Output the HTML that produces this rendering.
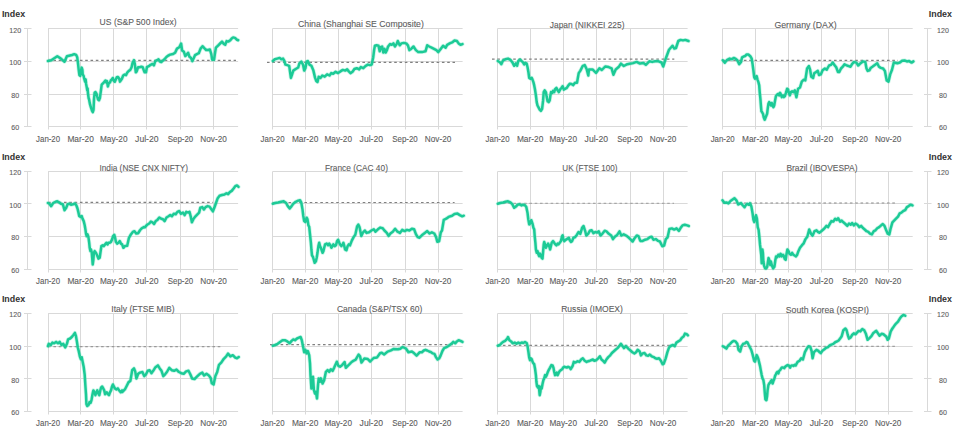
<!DOCTYPE html><html><head><meta charset="utf-8"><style>html,body{margin:0;padding:0;background:#fff;width:960px;height:431px;overflow:hidden}svg{display:block}text{font-family:"Liberation Sans",sans-serif}.t{stroke:#606060;stroke-width:0.1px}</style></head><body>
<svg width="960" height="431" viewBox="0 0 960 431">
<path d="M48.1 28.50H238.1 M48.1 61.50H238.1 M48.1 94.50H238.1 M48.1 126.50H238.1 M48.50 28.5V129.5 M80.50 28.5V129.5 M113.50 28.5V129.5 M146.50 28.5V129.5 M180.50 28.5V129.5 M213.50 28.5V129.5 M272.6 28.50H462.6 M272.6 61.50H462.6 M272.6 94.50H462.6 M272.6 126.50H462.6 M272.50 28.5V129.5 M305.50 28.5V129.5 M338.50 28.5V129.5 M371.50 28.5V129.5 M405.50 28.5V129.5 M438.50 28.5V129.5 M497.6 28.50H687.6 M497.6 61.50H687.6 M497.6 94.50H687.6 M497.6 126.50H687.6 M497.50 28.5V129.5 M530.50 28.5V129.5 M563.50 28.5V129.5 M596.50 28.5V129.5 M630.50 28.5V129.5 M663.50 28.5V129.5 M722.7 28.50H912.7 M722.7 61.50H912.7 M722.7 94.50H912.7 M722.7 126.50H912.7 M722.50 28.5V129.5 M755.50 28.5V129.5 M788.50 28.5V129.5 M821.50 28.5V129.5 M855.50 28.5V129.5 M888.50 28.5V129.5 M48.1 171.50H238.1 M48.1 203.50H238.1 M48.1 236.50H238.1 M48.1 269.50H238.1 M48.50 171.5V272.5 M80.50 171.5V272.5 M113.50 171.5V272.5 M146.50 171.5V272.5 M180.50 171.5V272.5 M213.50 171.5V272.5 M272.6 171.50H462.6 M272.6 203.50H462.6 M272.6 236.50H462.6 M272.6 269.50H462.6 M272.50 171.5V272.5 M305.50 171.5V272.5 M338.50 171.5V272.5 M371.50 171.5V272.5 M405.50 171.5V272.5 M438.50 171.5V272.5 M497.6 171.50H687.6 M497.6 203.50H687.6 M497.6 236.50H687.6 M497.6 269.50H687.6 M497.50 171.5V272.5 M530.50 171.5V272.5 M563.50 171.5V272.5 M596.50 171.5V272.5 M630.50 171.5V272.5 M663.50 171.5V272.5 M722.7 171.50H912.7 M722.7 203.50H912.7 M722.7 236.50H912.7 M722.7 269.50H912.7 M722.50 171.5V272.5 M755.50 171.5V272.5 M788.50 171.5V272.5 M821.50 171.5V272.5 M855.50 171.5V272.5 M888.50 171.5V272.5 M48.1 313.50H238.1 M48.1 346.50H238.1 M48.1 378.50H238.1 M48.1 411.50H238.1 M48.50 313.5V414.5 M80.50 313.5V414.5 M113.50 313.5V414.5 M146.50 313.5V414.5 M180.50 313.5V414.5 M213.50 313.5V414.5 M272.6 313.50H462.6 M272.6 346.50H462.6 M272.6 378.50H462.6 M272.6 411.50H462.6 M272.50 313.5V414.5 M305.50 313.5V414.5 M338.50 313.5V414.5 M371.50 313.5V414.5 M405.50 313.5V414.5 M438.50 313.5V414.5 M497.6 313.50H687.6 M497.6 346.50H687.6 M497.6 378.50H687.6 M497.6 411.50H687.6 M497.50 313.5V414.5 M530.50 313.5V414.5 M563.50 313.5V414.5 M596.50 313.5V414.5 M630.50 313.5V414.5 M663.50 313.5V414.5 M722.7 313.50H912.7 M722.7 346.50H912.7 M722.7 378.50H912.7 M722.7 411.50H912.7 M722.50 313.5V414.5 M755.50 313.5V414.5 M788.50 313.5V414.5 M821.50 313.5V414.5 M855.50 313.5V414.5 M888.50 313.5V414.5" stroke="#d9d9d9" stroke-width="1" fill="none"/>
<path d="M27.5 28.5V126.5 M927.5 28.5V126.5 M24 28.50H31.5 M924 28.50H931.5 M24 61.50H31.5 M924 61.50H931.5 M24 94.50H31.5 M924 94.50H931.5 M24 126.50H31.5 M924 126.50H931.5 M27.5 171.5V269.5 M927.5 171.5V269.5 M24 171.50H31.5 M924 171.50H931.5 M24 203.50H31.5 M924 203.50H931.5 M24 236.50H31.5 M924 236.50H931.5 M24 269.50H31.5 M924 269.50H931.5 M27.5 313.5V411.5 M927.5 313.5V411.5 M24 313.50H31.5 M924 313.50H931.5 M24 346.50H31.5 M924 346.50H931.5 M24 378.50H31.5 M924 378.50H931.5 M24 411.50H31.5 M924 411.50H931.5" stroke="#d9d9d9" stroke-width="1" fill="none"/>
<text x="1.9" y="17.20" font-size="9.4" font-weight="bold" fill="#333333" textLength="23.2" lengthAdjust="spacingAndGlyphs">Index</text>
<text x="928.8" y="17.20" font-size="9.4" font-weight="bold" fill="#333333" textLength="23.2" lengthAdjust="spacingAndGlyphs">Index</text>
<text x="15.2" y="32.60" font-size="7.8" fill="#5c5c5c" class="t" text-anchor="middle" textLength="11.8" lengthAdjust="spacingAndGlyphs">120</text>
<text x="943.0" y="32.60" font-size="7.8" fill="#5c5c5c" class="t" text-anchor="middle" textLength="11.8" lengthAdjust="spacingAndGlyphs">120</text>
<text x="15.2" y="65.20" font-size="7.8" fill="#5c5c5c" class="t" text-anchor="middle" textLength="11.8" lengthAdjust="spacingAndGlyphs">100</text>
<text x="943.0" y="65.20" font-size="7.8" fill="#5c5c5c" class="t" text-anchor="middle" textLength="11.8" lengthAdjust="spacingAndGlyphs">100</text>
<text x="15.2" y="97.80" font-size="7.8" fill="#5c5c5c" class="t" text-anchor="middle" textLength="7.9" lengthAdjust="spacingAndGlyphs">80</text>
<text x="943.0" y="97.80" font-size="7.8" fill="#5c5c5c" class="t" text-anchor="middle" textLength="7.9" lengthAdjust="spacingAndGlyphs">80</text>
<text x="15.2" y="130.40" font-size="7.8" fill="#5c5c5c" class="t" text-anchor="middle" textLength="7.9" lengthAdjust="spacingAndGlyphs">60</text>
<text x="943.0" y="130.40" font-size="7.8" fill="#5c5c5c" class="t" text-anchor="middle" textLength="7.9" lengthAdjust="spacingAndGlyphs">60</text>
<text x="48.10" y="141.60" font-size="8.6" fill="#5c5c5c" class="t" text-anchor="middle" textLength="24" lengthAdjust="spacingAndGlyphs">Jan-20</text>
<text x="80.65" y="141.60" font-size="8.6" fill="#5c5c5c" class="t" text-anchor="middle" textLength="26.5" lengthAdjust="spacingAndGlyphs">Mar-20</text>
<text x="113.74" y="141.60" font-size="8.6" fill="#5c5c5c" class="t" text-anchor="middle" textLength="27.5" lengthAdjust="spacingAndGlyphs">May-20</text>
<text x="146.84" y="141.60" font-size="8.6" fill="#5c5c5c" class="t" text-anchor="middle" textLength="23.5" lengthAdjust="spacingAndGlyphs">Jul-20</text>
<text x="180.47" y="141.60" font-size="8.6" fill="#5c5c5c" class="t" text-anchor="middle" textLength="25.5" lengthAdjust="spacingAndGlyphs">Sep-20</text>
<text x="213.56" y="141.60" font-size="8.6" fill="#5c5c5c" class="t" text-anchor="middle" textLength="26.5" lengthAdjust="spacingAndGlyphs">Nov-20</text>
<text x="272.60" y="141.60" font-size="8.6" fill="#5c5c5c" class="t" text-anchor="middle" textLength="24" lengthAdjust="spacingAndGlyphs">Jan-20</text>
<text x="305.15" y="141.60" font-size="8.6" fill="#5c5c5c" class="t" text-anchor="middle" textLength="26.5" lengthAdjust="spacingAndGlyphs">Mar-20</text>
<text x="338.24" y="141.60" font-size="8.6" fill="#5c5c5c" class="t" text-anchor="middle" textLength="27.5" lengthAdjust="spacingAndGlyphs">May-20</text>
<text x="371.34" y="141.60" font-size="8.6" fill="#5c5c5c" class="t" text-anchor="middle" textLength="23.5" lengthAdjust="spacingAndGlyphs">Jul-20</text>
<text x="404.97" y="141.60" font-size="8.6" fill="#5c5c5c" class="t" text-anchor="middle" textLength="25.5" lengthAdjust="spacingAndGlyphs">Sep-20</text>
<text x="438.06" y="141.60" font-size="8.6" fill="#5c5c5c" class="t" text-anchor="middle" textLength="26.5" lengthAdjust="spacingAndGlyphs">Nov-20</text>
<text x="497.60" y="141.60" font-size="8.6" fill="#5c5c5c" class="t" text-anchor="middle" textLength="24" lengthAdjust="spacingAndGlyphs">Jan-20</text>
<text x="530.15" y="141.60" font-size="8.6" fill="#5c5c5c" class="t" text-anchor="middle" textLength="26.5" lengthAdjust="spacingAndGlyphs">Mar-20</text>
<text x="563.24" y="141.60" font-size="8.6" fill="#5c5c5c" class="t" text-anchor="middle" textLength="27.5" lengthAdjust="spacingAndGlyphs">May-20</text>
<text x="596.34" y="141.60" font-size="8.6" fill="#5c5c5c" class="t" text-anchor="middle" textLength="23.5" lengthAdjust="spacingAndGlyphs">Jul-20</text>
<text x="629.97" y="141.60" font-size="8.6" fill="#5c5c5c" class="t" text-anchor="middle" textLength="25.5" lengthAdjust="spacingAndGlyphs">Sep-20</text>
<text x="663.06" y="141.60" font-size="8.6" fill="#5c5c5c" class="t" text-anchor="middle" textLength="26.5" lengthAdjust="spacingAndGlyphs">Nov-20</text>
<text x="722.70" y="141.60" font-size="8.6" fill="#5c5c5c" class="t" text-anchor="middle" textLength="24" lengthAdjust="spacingAndGlyphs">Jan-20</text>
<text x="755.25" y="141.60" font-size="8.6" fill="#5c5c5c" class="t" text-anchor="middle" textLength="26.5" lengthAdjust="spacingAndGlyphs">Mar-20</text>
<text x="788.34" y="141.60" font-size="8.6" fill="#5c5c5c" class="t" text-anchor="middle" textLength="27.5" lengthAdjust="spacingAndGlyphs">May-20</text>
<text x="821.44" y="141.60" font-size="8.6" fill="#5c5c5c" class="t" text-anchor="middle" textLength="23.5" lengthAdjust="spacingAndGlyphs">Jul-20</text>
<text x="855.07" y="141.60" font-size="8.6" fill="#5c5c5c" class="t" text-anchor="middle" textLength="25.5" lengthAdjust="spacingAndGlyphs">Sep-20</text>
<text x="888.16" y="141.60" font-size="8.6" fill="#5c5c5c" class="t" text-anchor="middle" textLength="26.5" lengthAdjust="spacingAndGlyphs">Nov-20</text>
<text x="1.9" y="159.50" font-size="9.4" font-weight="bold" fill="#333333" textLength="23.2" lengthAdjust="spacingAndGlyphs">Index</text>
<text x="928.8" y="159.50" font-size="9.4" font-weight="bold" fill="#333333" textLength="23.2" lengthAdjust="spacingAndGlyphs">Index</text>
<text x="15.2" y="174.90" font-size="7.8" fill="#5c5c5c" class="t" text-anchor="middle" textLength="11.8" lengthAdjust="spacingAndGlyphs">120</text>
<text x="943.0" y="174.90" font-size="7.8" fill="#5c5c5c" class="t" text-anchor="middle" textLength="11.8" lengthAdjust="spacingAndGlyphs">120</text>
<text x="15.2" y="207.50" font-size="7.8" fill="#5c5c5c" class="t" text-anchor="middle" textLength="11.8" lengthAdjust="spacingAndGlyphs">100</text>
<text x="943.0" y="207.50" font-size="7.8" fill="#5c5c5c" class="t" text-anchor="middle" textLength="11.8" lengthAdjust="spacingAndGlyphs">100</text>
<text x="15.2" y="240.10" font-size="7.8" fill="#5c5c5c" class="t" text-anchor="middle" textLength="7.9" lengthAdjust="spacingAndGlyphs">80</text>
<text x="943.0" y="240.10" font-size="7.8" fill="#5c5c5c" class="t" text-anchor="middle" textLength="7.9" lengthAdjust="spacingAndGlyphs">80</text>
<text x="15.2" y="272.70" font-size="7.8" fill="#5c5c5c" class="t" text-anchor="middle" textLength="7.9" lengthAdjust="spacingAndGlyphs">60</text>
<text x="943.0" y="272.70" font-size="7.8" fill="#5c5c5c" class="t" text-anchor="middle" textLength="7.9" lengthAdjust="spacingAndGlyphs">60</text>
<text x="48.10" y="283.90" font-size="8.6" fill="#5c5c5c" class="t" text-anchor="middle" textLength="24" lengthAdjust="spacingAndGlyphs">Jan-20</text>
<text x="80.65" y="283.90" font-size="8.6" fill="#5c5c5c" class="t" text-anchor="middle" textLength="26.5" lengthAdjust="spacingAndGlyphs">Mar-20</text>
<text x="113.74" y="283.90" font-size="8.6" fill="#5c5c5c" class="t" text-anchor="middle" textLength="27.5" lengthAdjust="spacingAndGlyphs">May-20</text>
<text x="146.84" y="283.90" font-size="8.6" fill="#5c5c5c" class="t" text-anchor="middle" textLength="23.5" lengthAdjust="spacingAndGlyphs">Jul-20</text>
<text x="180.47" y="283.90" font-size="8.6" fill="#5c5c5c" class="t" text-anchor="middle" textLength="25.5" lengthAdjust="spacingAndGlyphs">Sep-20</text>
<text x="213.56" y="283.90" font-size="8.6" fill="#5c5c5c" class="t" text-anchor="middle" textLength="26.5" lengthAdjust="spacingAndGlyphs">Nov-20</text>
<text x="272.60" y="283.90" font-size="8.6" fill="#5c5c5c" class="t" text-anchor="middle" textLength="24" lengthAdjust="spacingAndGlyphs">Jan-20</text>
<text x="305.15" y="283.90" font-size="8.6" fill="#5c5c5c" class="t" text-anchor="middle" textLength="26.5" lengthAdjust="spacingAndGlyphs">Mar-20</text>
<text x="338.24" y="283.90" font-size="8.6" fill="#5c5c5c" class="t" text-anchor="middle" textLength="27.5" lengthAdjust="spacingAndGlyphs">May-20</text>
<text x="371.34" y="283.90" font-size="8.6" fill="#5c5c5c" class="t" text-anchor="middle" textLength="23.5" lengthAdjust="spacingAndGlyphs">Jul-20</text>
<text x="404.97" y="283.90" font-size="8.6" fill="#5c5c5c" class="t" text-anchor="middle" textLength="25.5" lengthAdjust="spacingAndGlyphs">Sep-20</text>
<text x="438.06" y="283.90" font-size="8.6" fill="#5c5c5c" class="t" text-anchor="middle" textLength="26.5" lengthAdjust="spacingAndGlyphs">Nov-20</text>
<text x="497.60" y="283.90" font-size="8.6" fill="#5c5c5c" class="t" text-anchor="middle" textLength="24" lengthAdjust="spacingAndGlyphs">Jan-20</text>
<text x="530.15" y="283.90" font-size="8.6" fill="#5c5c5c" class="t" text-anchor="middle" textLength="26.5" lengthAdjust="spacingAndGlyphs">Mar-20</text>
<text x="563.24" y="283.90" font-size="8.6" fill="#5c5c5c" class="t" text-anchor="middle" textLength="27.5" lengthAdjust="spacingAndGlyphs">May-20</text>
<text x="596.34" y="283.90" font-size="8.6" fill="#5c5c5c" class="t" text-anchor="middle" textLength="23.5" lengthAdjust="spacingAndGlyphs">Jul-20</text>
<text x="629.97" y="283.90" font-size="8.6" fill="#5c5c5c" class="t" text-anchor="middle" textLength="25.5" lengthAdjust="spacingAndGlyphs">Sep-20</text>
<text x="663.06" y="283.90" font-size="8.6" fill="#5c5c5c" class="t" text-anchor="middle" textLength="26.5" lengthAdjust="spacingAndGlyphs">Nov-20</text>
<text x="722.70" y="283.90" font-size="8.6" fill="#5c5c5c" class="t" text-anchor="middle" textLength="24" lengthAdjust="spacingAndGlyphs">Jan-20</text>
<text x="755.25" y="283.90" font-size="8.6" fill="#5c5c5c" class="t" text-anchor="middle" textLength="26.5" lengthAdjust="spacingAndGlyphs">Mar-20</text>
<text x="788.34" y="283.90" font-size="8.6" fill="#5c5c5c" class="t" text-anchor="middle" textLength="27.5" lengthAdjust="spacingAndGlyphs">May-20</text>
<text x="821.44" y="283.90" font-size="8.6" fill="#5c5c5c" class="t" text-anchor="middle" textLength="23.5" lengthAdjust="spacingAndGlyphs">Jul-20</text>
<text x="855.07" y="283.90" font-size="8.6" fill="#5c5c5c" class="t" text-anchor="middle" textLength="25.5" lengthAdjust="spacingAndGlyphs">Sep-20</text>
<text x="888.16" y="283.90" font-size="8.6" fill="#5c5c5c" class="t" text-anchor="middle" textLength="26.5" lengthAdjust="spacingAndGlyphs">Nov-20</text>
<text x="1.9" y="301.90" font-size="9.4" font-weight="bold" fill="#333333" textLength="23.2" lengthAdjust="spacingAndGlyphs">Index</text>
<text x="928.8" y="301.90" font-size="9.4" font-weight="bold" fill="#333333" textLength="23.2" lengthAdjust="spacingAndGlyphs">Index</text>
<text x="15.2" y="317.30" font-size="7.8" fill="#5c5c5c" class="t" text-anchor="middle" textLength="11.8" lengthAdjust="spacingAndGlyphs">120</text>
<text x="943.0" y="317.30" font-size="7.8" fill="#5c5c5c" class="t" text-anchor="middle" textLength="11.8" lengthAdjust="spacingAndGlyphs">120</text>
<text x="15.2" y="349.90" font-size="7.8" fill="#5c5c5c" class="t" text-anchor="middle" textLength="11.8" lengthAdjust="spacingAndGlyphs">100</text>
<text x="943.0" y="349.90" font-size="7.8" fill="#5c5c5c" class="t" text-anchor="middle" textLength="11.8" lengthAdjust="spacingAndGlyphs">100</text>
<text x="15.2" y="382.50" font-size="7.8" fill="#5c5c5c" class="t" text-anchor="middle" textLength="7.9" lengthAdjust="spacingAndGlyphs">80</text>
<text x="943.0" y="382.50" font-size="7.8" fill="#5c5c5c" class="t" text-anchor="middle" textLength="7.9" lengthAdjust="spacingAndGlyphs">80</text>
<text x="15.2" y="415.10" font-size="7.8" fill="#5c5c5c" class="t" text-anchor="middle" textLength="7.9" lengthAdjust="spacingAndGlyphs">60</text>
<text x="943.0" y="415.10" font-size="7.8" fill="#5c5c5c" class="t" text-anchor="middle" textLength="7.9" lengthAdjust="spacingAndGlyphs">60</text>
<text x="48.10" y="426.30" font-size="8.6" fill="#5c5c5c" class="t" text-anchor="middle" textLength="24" lengthAdjust="spacingAndGlyphs">Jan-20</text>
<text x="80.65" y="426.30" font-size="8.6" fill="#5c5c5c" class="t" text-anchor="middle" textLength="26.5" lengthAdjust="spacingAndGlyphs">Mar-20</text>
<text x="113.74" y="426.30" font-size="8.6" fill="#5c5c5c" class="t" text-anchor="middle" textLength="27.5" lengthAdjust="spacingAndGlyphs">May-20</text>
<text x="146.84" y="426.30" font-size="8.6" fill="#5c5c5c" class="t" text-anchor="middle" textLength="23.5" lengthAdjust="spacingAndGlyphs">Jul-20</text>
<text x="180.47" y="426.30" font-size="8.6" fill="#5c5c5c" class="t" text-anchor="middle" textLength="25.5" lengthAdjust="spacingAndGlyphs">Sep-20</text>
<text x="213.56" y="426.30" font-size="8.6" fill="#5c5c5c" class="t" text-anchor="middle" textLength="26.5" lengthAdjust="spacingAndGlyphs">Nov-20</text>
<text x="272.60" y="426.30" font-size="8.6" fill="#5c5c5c" class="t" text-anchor="middle" textLength="24" lengthAdjust="spacingAndGlyphs">Jan-20</text>
<text x="305.15" y="426.30" font-size="8.6" fill="#5c5c5c" class="t" text-anchor="middle" textLength="26.5" lengthAdjust="spacingAndGlyphs">Mar-20</text>
<text x="338.24" y="426.30" font-size="8.6" fill="#5c5c5c" class="t" text-anchor="middle" textLength="27.5" lengthAdjust="spacingAndGlyphs">May-20</text>
<text x="371.34" y="426.30" font-size="8.6" fill="#5c5c5c" class="t" text-anchor="middle" textLength="23.5" lengthAdjust="spacingAndGlyphs">Jul-20</text>
<text x="404.97" y="426.30" font-size="8.6" fill="#5c5c5c" class="t" text-anchor="middle" textLength="25.5" lengthAdjust="spacingAndGlyphs">Sep-20</text>
<text x="438.06" y="426.30" font-size="8.6" fill="#5c5c5c" class="t" text-anchor="middle" textLength="26.5" lengthAdjust="spacingAndGlyphs">Nov-20</text>
<text x="497.60" y="426.30" font-size="8.6" fill="#5c5c5c" class="t" text-anchor="middle" textLength="24" lengthAdjust="spacingAndGlyphs">Jan-20</text>
<text x="530.15" y="426.30" font-size="8.6" fill="#5c5c5c" class="t" text-anchor="middle" textLength="26.5" lengthAdjust="spacingAndGlyphs">Mar-20</text>
<text x="563.24" y="426.30" font-size="8.6" fill="#5c5c5c" class="t" text-anchor="middle" textLength="27.5" lengthAdjust="spacingAndGlyphs">May-20</text>
<text x="596.34" y="426.30" font-size="8.6" fill="#5c5c5c" class="t" text-anchor="middle" textLength="23.5" lengthAdjust="spacingAndGlyphs">Jul-20</text>
<text x="629.97" y="426.30" font-size="8.6" fill="#5c5c5c" class="t" text-anchor="middle" textLength="25.5" lengthAdjust="spacingAndGlyphs">Sep-20</text>
<text x="663.06" y="426.30" font-size="8.6" fill="#5c5c5c" class="t" text-anchor="middle" textLength="26.5" lengthAdjust="spacingAndGlyphs">Nov-20</text>
<text x="722.70" y="426.30" font-size="8.6" fill="#5c5c5c" class="t" text-anchor="middle" textLength="24" lengthAdjust="spacingAndGlyphs">Jan-20</text>
<text x="755.25" y="426.30" font-size="8.6" fill="#5c5c5c" class="t" text-anchor="middle" textLength="26.5" lengthAdjust="spacingAndGlyphs">Mar-20</text>
<text x="788.34" y="426.30" font-size="8.6" fill="#5c5c5c" class="t" text-anchor="middle" textLength="27.5" lengthAdjust="spacingAndGlyphs">May-20</text>
<text x="821.44" y="426.30" font-size="8.6" fill="#5c5c5c" class="t" text-anchor="middle" textLength="23.5" lengthAdjust="spacingAndGlyphs">Jul-20</text>
<text x="855.07" y="426.30" font-size="8.6" fill="#5c5c5c" class="t" text-anchor="middle" textLength="25.5" lengthAdjust="spacingAndGlyphs">Sep-20</text>
<text x="888.16" y="426.30" font-size="8.6" fill="#5c5c5c" class="t" text-anchor="middle" textLength="26.5" lengthAdjust="spacingAndGlyphs">Nov-20</text>
<text x="99.60" y="25.25" font-size="9.2" fill="#5c5c5c" class="t" textLength="77.00" lengthAdjust="spacingAndGlyphs">US (S&amp;P 500 Index)</text>
<text x="298.00" y="27.40" font-size="9.2" fill="#5c5c5c" class="t" textLength="125.80" lengthAdjust="spacingAndGlyphs">China (Shanghai SE Composite)</text>
<text x="549.80" y="27.85" font-size="9.2" fill="#5c5c5c" class="t" textLength="74.70" lengthAdjust="spacingAndGlyphs">Japan (NIKKEI 225)</text>
<text x="774.40" y="27.85" font-size="9.2" fill="#5c5c5c" class="t" textLength="62.30" lengthAdjust="spacingAndGlyphs">Germany (DAX)</text>
<text x="99.40" y="170.75" font-size="9.2" fill="#5c5c5c" class="t" textLength="88.70" lengthAdjust="spacingAndGlyphs">India (NSE CNX NIFTY)</text>
<text x="325.00" y="170.70" font-size="9.2" fill="#5c5c5c" class="t" textLength="62.90" lengthAdjust="spacingAndGlyphs">France (CAC 40)</text>
<text x="562.30" y="170.70" font-size="9.2" fill="#5c5c5c" class="t" textLength="55.20" lengthAdjust="spacingAndGlyphs">UK (FTSE 100)</text>
<text x="786.40" y="170.80" font-size="9.2" fill="#5c5c5c" class="t" textLength="71.10" lengthAdjust="spacingAndGlyphs">Brazil (IBOVESPA)</text>
<text x="111.30" y="312.30" font-size="9.2" fill="#5c5c5c" class="t" textLength="63.30" lengthAdjust="spacingAndGlyphs">Italy (FTSE MIB)</text>
<text x="336.90" y="312.25" font-size="9.2" fill="#5c5c5c" class="t" textLength="85.45" lengthAdjust="spacingAndGlyphs">Canada (S&amp;P/TSX 60)</text>
<text x="561.20" y="312.30" font-size="9.2" fill="#5c5c5c" class="t" textLength="61.70" lengthAdjust="spacingAndGlyphs">Russia (IMOEX)</text>
<text x="785.80" y="312.50" font-size="9.2" fill="#5c5c5c" class="t" textLength="83.20" lengthAdjust="spacingAndGlyphs">South Korea (KOSPI)</text>
<path d="M48.1 60.40H236.0" stroke="#808080" stroke-width="1.2" stroke-dasharray="2.6 2.7" fill="none"/>
<path d="M267.0 62.30H455.0" stroke="#808080" stroke-width="1.2" stroke-dasharray="2.6 2.7" fill="none"/>
<path d="M492.0 59.10H674.3" stroke="#808080" stroke-width="1.2" stroke-dasharray="2.6 2.7" fill="none"/>
<path d="M722.7 60.30H898.0" stroke="#808080" stroke-width="1.2" stroke-dasharray="2.6 2.7" fill="none"/>
<path d="M48.1 202.30H213.0" stroke="#808080" stroke-width="1.2" stroke-dasharray="2.6 2.7" fill="none"/>
<path d="M272.6 202.50H454.6" stroke="#808080" stroke-width="1.2" stroke-dasharray="2.6 2.7" fill="none"/>
<path d="M497.6 203.40H674.0" stroke="#a8a8a8" stroke-width="1.2" stroke-dasharray="2.6 2.7" fill="none"/>
<path d="M722.7 203.00H896.0" stroke="#8c8c8c" stroke-width="1.2" stroke-dasharray="2.6 2.7" fill="none"/>
<path d="M48.1 346.60H221.0" stroke="#999999" stroke-width="1.2" stroke-dasharray="2.6 2.7" fill="none"/>
<path d="M270.0 344.60H455.0" stroke="#808080" stroke-width="1.2" stroke-dasharray="2.6 2.7" fill="none"/>
<path d="M497.6 345.40H674.0" stroke="#888888" stroke-width="1.2" stroke-dasharray="2.6 2.7" fill="none"/>
<path d="M722.7 346.40H896.4" stroke="#a0a0a0" stroke-width="1.2" stroke-dasharray="2.6 2.7" fill="none"/>
<path d="M47.9 61.0L51.2 60.3L57.3 56.2L60.9 58.6L64.5 61.7L66.9 56.2L72.0 55.0L74.2 54.2L76.2 55.0L77.2 57.2L77.9 62.4L78.7 69.8L79.4 75.0L80.2 75.8L80.9 71.3L81.7 67.6L82.4 69.8L82.7 74.3L83.6 75.8L84.2 78.7L85.1 81.7L85.7 79.5L86.1 83.9L86.8 87.6L87.3 90.6L87.6 88.4L88.0 93.6L88.6 98.0L89.1 99.5L89.5 101.7L90.1 104.7L91.0 107.7L92.0 110.7L92.8 112.1L93.5 109.9L94.0 99.5L94.6 92.8L95.5 92.1L96.5 93.6L97.2 96.5L98.0 99.5L99.0 100.3L99.9 98.0L101.0 89.9L101.7 84.7L102.4 83.9L103.2 83.2L104.4 81.7L105.4 80.5L106.2 82.4L106.9 81.0L107.9 86.5L108.8 83.2L109.9 82.4L110.9 80.2L111.8 79.5L112.8 78.0L113.9 81.0L114.8 81.7L115.8 79.5L116.8 77.2L118.0 76.9L119.2 78.7L120.0 81.6L121.9 78.8L123.2 75.5L124.6 74.6L126.0 75.1L127.4 72.3L128.8 70.9L130.2 70.0L131.6 67.2L132.5 63.0L133.9 60.2L134.8 63.9L135.8 72.3L136.7 71.3L138.1 67.2L140.0 67.2L141.3 66.7L142.7 67.2L143.7 70.0L144.6 72.3L146.0 72.3L146.9 67.2L148.8 66.2L150.6 64.8L152.5 63.9L153.9 65.3L155.3 61.1L157.1 60.2L158.5 59.3L159.9 61.6L161.3 62.1L162.7 60.7L164.5 59.3L166.4 57.0L168.3 55.6L170.1 54.6L172.0 54.2L172.8 54.1L175.1 52.7L177.0 48.6L179.3 47.2L181.1 43.5L182.1 50.4L183.9 51.8L185.3 56.0L186.7 54.6L188.1 52.7L189.5 56.9L190.9 57.8L192.3 61.1L193.7 58.3L195.1 55.1L196.9 54.1L198.8 53.2L200.6 48.6L202.5 46.2L204.3 48.1L206.2 50.0L208.1 50.0L209.9 49.5L211.3 54.1L212.2 59.7L214.1 59.7L215.0 53.2L215.9 47.6L218.3 45.3L220.1 43.5L222.0 41.6L223.8 43.9L225.2 44.8L226.6 41.1L228.5 41.6L230.3 40.2L231.7 38.4L233.1 37.4L235.0 37.9L236.8 39.7L238.2 40.2" stroke="#5fe3bb" stroke-opacity="0.35" stroke-width="4" fill="none" stroke-linejoin="round" stroke-linecap="round"/>
<path d="M47.9 61.0L51.2 60.3L57.3 56.2L60.9 58.6L64.5 61.7L66.9 56.2L72.0 55.0L74.2 54.2L76.2 55.0L77.2 57.2L77.9 62.4L78.7 69.8L79.4 75.0L80.2 75.8L80.9 71.3L81.7 67.6L82.4 69.8L82.7 74.3L83.6 75.8L84.2 78.7L85.1 81.7L85.7 79.5L86.1 83.9L86.8 87.6L87.3 90.6L87.6 88.4L88.0 93.6L88.6 98.0L89.1 99.5L89.5 101.7L90.1 104.7L91.0 107.7L92.0 110.7L92.8 112.1L93.5 109.9L94.0 99.5L94.6 92.8L95.5 92.1L96.5 93.6L97.2 96.5L98.0 99.5L99.0 100.3L99.9 98.0L101.0 89.9L101.7 84.7L102.4 83.9L103.2 83.2L104.4 81.7L105.4 80.5L106.2 82.4L106.9 81.0L107.9 86.5L108.8 83.2L109.9 82.4L110.9 80.2L111.8 79.5L112.8 78.0L113.9 81.0L114.8 81.7L115.8 79.5L116.8 77.2L118.0 76.9L119.2 78.7L120.0 81.6L121.9 78.8L123.2 75.5L124.6 74.6L126.0 75.1L127.4 72.3L128.8 70.9L130.2 70.0L131.6 67.2L132.5 63.0L133.9 60.2L134.8 63.9L135.8 72.3L136.7 71.3L138.1 67.2L140.0 67.2L141.3 66.7L142.7 67.2L143.7 70.0L144.6 72.3L146.0 72.3L146.9 67.2L148.8 66.2L150.6 64.8L152.5 63.9L153.9 65.3L155.3 61.1L157.1 60.2L158.5 59.3L159.9 61.6L161.3 62.1L162.7 60.7L164.5 59.3L166.4 57.0L168.3 55.6L170.1 54.6L172.0 54.2L172.8 54.1L175.1 52.7L177.0 48.6L179.3 47.2L181.1 43.5L182.1 50.4L183.9 51.8L185.3 56.0L186.7 54.6L188.1 52.7L189.5 56.9L190.9 57.8L192.3 61.1L193.7 58.3L195.1 55.1L196.9 54.1L198.8 53.2L200.6 48.6L202.5 46.2L204.3 48.1L206.2 50.0L208.1 50.0L209.9 49.5L211.3 54.1L212.2 59.7L214.1 59.7L215.0 53.2L215.9 47.6L218.3 45.3L220.1 43.5L222.0 41.6L223.8 43.9L225.2 44.8L226.6 41.1L228.5 41.6L230.3 40.2L231.7 38.4L233.1 37.4L235.0 37.9L236.8 39.7L238.2 40.2" stroke="#1cca96" stroke-width="2.5" fill="none" stroke-linejoin="round" stroke-linecap="round"/>
<path d="M272.8 61.0L274.8 59.3L277.2 58.6L279.6 57.9L281.3 59.3L283.0 58.6L284.4 61.0L285.4 64.6L287.3 65.1L289.2 65.8L290.9 77.9L292.1 74.3L293.3 70.6L295.7 69.0L298.2 67.5L299.4 63.4L301.3 61.7L303.0 64.6L304.2 70.6L305.4 68.2L306.6 61.7L307.8 61.0L309.5 64.6L311.4 65.8L313.4 70.6L315.1 77.9L316.3 81.0L317.5 82.0L318.7 76.7L320.6 77.9L322.3 75.5L324.7 76.7L327.1 74.3L329.5 75.5L331.2 73.1L333.2 73.8L335.6 71.8L338.0 73.1L340.4 71.4L342.8 69.9L345.2 70.6L347.1 69.4L348.8 71.4L350.5 73.1L352.5 71.8L354.4 69.0L356.8 68.2L359.2 69.4L360.9 67.0L363.3 68.2L365.7 65.8L367.9 64.6L370.0 65.1L371.7 64.6L373.2 57.4L374.1 50.1L374.9 45.8L376.5 45.3L378.5 45.8L379.7 51.3L380.9 47.2L382.1 46.5L383.3 52.5L384.5 48.9L385.7 52.5L386.9 50.1L388.1 46.5L390.1 44.1L391.7 44.8L393.4 43.4L394.9 46.5L396.6 44.1L397.8 41.0L399.7 45.3L401.4 43.4L403.8 42.9L406.2 43.4L407.9 45.3L409.4 50.1L411.1 48.9L413.5 46.5L415.9 50.1L418.3 52.1L421.9 52.1L425.5 51.3L427.2 45.3L429.2 46.5L431.6 47.7L434.0 48.9L436.4 50.1L438.3 52.1L440.7 48.9L443.1 45.8L445.6 47.7L447.2 44.8L449.7 43.4L452.1 42.4L454.5 40.5L456.9 41.0L458.6 43.4L460.5 44.8L462.5 44.1" stroke="#5fe3bb" stroke-opacity="0.35" stroke-width="4" fill="none" stroke-linejoin="round" stroke-linecap="round"/>
<path d="M272.8 61.0L274.8 59.3L277.2 58.6L279.6 57.9L281.3 59.3L283.0 58.6L284.4 61.0L285.4 64.6L287.3 65.1L289.2 65.8L290.9 77.9L292.1 74.3L293.3 70.6L295.7 69.0L298.2 67.5L299.4 63.4L301.3 61.7L303.0 64.6L304.2 70.6L305.4 68.2L306.6 61.7L307.8 61.0L309.5 64.6L311.4 65.8L313.4 70.6L315.1 77.9L316.3 81.0L317.5 82.0L318.7 76.7L320.6 77.9L322.3 75.5L324.7 76.7L327.1 74.3L329.5 75.5L331.2 73.1L333.2 73.8L335.6 71.8L338.0 73.1L340.4 71.4L342.8 69.9L345.2 70.6L347.1 69.4L348.8 71.4L350.5 73.1L352.5 71.8L354.4 69.0L356.8 68.2L359.2 69.4L360.9 67.0L363.3 68.2L365.7 65.8L367.9 64.6L370.0 65.1L371.7 64.6L373.2 57.4L374.1 50.1L374.9 45.8L376.5 45.3L378.5 45.8L379.7 51.3L380.9 47.2L382.1 46.5L383.3 52.5L384.5 48.9L385.7 52.5L386.9 50.1L388.1 46.5L390.1 44.1L391.7 44.8L393.4 43.4L394.9 46.5L396.6 44.1L397.8 41.0L399.7 45.3L401.4 43.4L403.8 42.9L406.2 43.4L407.9 45.3L409.4 50.1L411.1 48.9L413.5 46.5L415.9 50.1L418.3 52.1L421.9 52.1L425.5 51.3L427.2 45.3L429.2 46.5L431.6 47.7L434.0 48.9L436.4 50.1L438.3 52.1L440.7 48.9L443.1 45.8L445.6 47.7L447.2 44.8L449.7 43.4L452.1 42.4L454.5 40.5L456.9 41.0L458.6 43.4L460.5 44.8L462.5 44.1" stroke="#1cca96" stroke-width="2.5" fill="none" stroke-linejoin="round" stroke-linecap="round"/>
<path d="M497.8 61.0L499.8 62.2L501.4 64.1L503.1 60.3L505.5 59.3L508.0 58.6L510.4 59.8L512.3 62.2L514.2 65.8L515.9 63.4L517.1 65.8L518.3 61.0L520.0 59.5L521.7 61.2L523.0 62.4L524.2 64.5L525.3 62.9L526.7 63.7L527.5 67.0L528.4 72.0L529.2 77.9L530.4 78.7L531.7 77.9L532.5 79.6L533.4 82.1L534.2 85.4L535.0 89.6L535.9 95.4L536.7 102.1L537.5 105.5L538.4 107.1L539.7 109.6L540.9 110.8L542.1 108.8L543.1 100.4L543.7 92.1L544.7 90.4L545.9 92.1L546.7 97.1L547.6 101.3L548.7 102.1L549.7 100.4L550.4 95.4L551.1 92.1L552.1 92.9L553.1 90.8L554.2 92.1L555.1 89.1L556.4 87.9L557.6 90.4L558.8 92.1L560.1 89.6L561.4 87.9L562.6 86.2L563.8 89.6L565.1 88.8L566.8 87.9L568.4 85.4L569.9 83.7L571.4 83.9L573.1 85.1L575.0 82.7L577.0 82.7L578.7 73.1L580.4 70.6L582.8 65.8L584.7 65.1L586.6 69.0L588.3 75.5L589.0 69.4L592.5 69.4L596.0 72.9L599.4 68.3L601.8 70.0L605.2 66.5L608.7 67.1L611.6 68.3L613.4 74.7L615.7 69.4L618.6 67.1L620.9 63.6L623.8 66.0L627.3 64.2L630.8 63.6L633.1 63.1L636.6 61.9L640.0 63.6L643.5 63.1L645.8 64.8L649.3 61.3L652.2 61.9L655.1 61.3L658.6 61.3L661.5 62.5L663.2 66.5L665.6 59.0L669.0 49.7L672.5 45.7L674.3 48.6L676.0 48.0L678.3 41.0L680.6 39.9L683.0 40.4L685.3 39.9L688.5 41.0" stroke="#5fe3bb" stroke-opacity="0.35" stroke-width="4" fill="none" stroke-linejoin="round" stroke-linecap="round"/>
<path d="M497.8 61.0L499.8 62.2L501.4 64.1L503.1 60.3L505.5 59.3L508.0 58.6L510.4 59.8L512.3 62.2L514.2 65.8L515.9 63.4L517.1 65.8L518.3 61.0L520.0 59.5L521.7 61.2L523.0 62.4L524.2 64.5L525.3 62.9L526.7 63.7L527.5 67.0L528.4 72.0L529.2 77.9L530.4 78.7L531.7 77.9L532.5 79.6L533.4 82.1L534.2 85.4L535.0 89.6L535.9 95.4L536.7 102.1L537.5 105.5L538.4 107.1L539.7 109.6L540.9 110.8L542.1 108.8L543.1 100.4L543.7 92.1L544.7 90.4L545.9 92.1L546.7 97.1L547.6 101.3L548.7 102.1L549.7 100.4L550.4 95.4L551.1 92.1L552.1 92.9L553.1 90.8L554.2 92.1L555.1 89.1L556.4 87.9L557.6 90.4L558.8 92.1L560.1 89.6L561.4 87.9L562.6 86.2L563.8 89.6L565.1 88.8L566.8 87.9L568.4 85.4L569.9 83.7L571.4 83.9L573.1 85.1L575.0 82.7L577.0 82.7L578.7 73.1L580.4 70.6L582.8 65.8L584.7 65.1L586.6 69.0L588.3 75.5L589.0 69.4L592.5 69.4L596.0 72.9L599.4 68.3L601.8 70.0L605.2 66.5L608.7 67.1L611.6 68.3L613.4 74.7L615.7 69.4L618.6 67.1L620.9 63.6L623.8 66.0L627.3 64.2L630.8 63.6L633.1 63.1L636.6 61.9L640.0 63.6L643.5 63.1L645.8 64.8L649.3 61.3L652.2 61.9L655.1 61.3L658.6 61.3L661.5 62.5L663.2 66.5L665.6 59.0L669.0 49.7L672.5 45.7L674.3 48.6L676.0 48.0L678.3 41.0L680.6 39.9L683.0 40.4L685.3 39.9L688.5 41.0" stroke="#1cca96" stroke-width="2.5" fill="none" stroke-linejoin="round" stroke-linecap="round"/>
<path d="M722.8 60.3L724.8 62.7L727.2 59.8L729.6 58.6L732.0 59.3L733.7 57.9L735.4 58.6L737.3 60.3L739.2 64.1L740.9 62.2L742.1 57.4L744.5 56.2L745.0 56.2L746.7 54.5L748.3 54.5L750.3 56.2L751.7 58.7L752.5 63.7L753.4 70.4L754.2 77.1L755.0 78.7L755.9 77.1L756.7 76.2L757.5 79.6L758.4 82.1L759.2 85.4L759.7 92.1L760.4 98.8L760.9 105.5L761.4 111.3L762.0 112.1L763.0 113.8L763.7 117.2L764.7 119.7L765.4 118.0L766.4 115.5L767.1 113.8L767.6 109.6L768.4 103.8L769.2 102.1L770.1 103.8L770.9 105.5L771.7 103.0L772.6 105.5L773.4 107.1L774.2 105.5L775.1 100.4L775.9 96.3L777.1 94.6L778.4 93.8L779.2 95.4L780.1 92.9L780.9 94.6L781.8 97.1L783.1 95.4L783.8 97.1L784.8 96.3L785.9 92.9L787.1 88.8L788.1 89.6L788.8 92.9L789.8 95.4L790.9 92.1L792.1 91.3L793.4 92.1L794.9 90.4L796.4 97.2L798.1 88.7L800.0 87.5L801.8 81.6L803.6 79.8L805.3 80.4L807.1 68.5L808.9 66.1L810.1 69.7L811.3 76.8L813.1 78.0L814.2 73.2L816.0 72.1L817.8 70.9L819.0 75.0L820.8 74.4L822.6 70.3L824.9 68.5L826.7 69.7L829.1 65.5L830.9 64.9L832.7 62.6L834.4 64.9L836.2 67.3L838.0 72.1L839.2 72.1L841.0 68.5L842.8 66.7L844.5 64.3L846.9 65.5L848.7 66.1L850.5 66.7L852.2 63.8L854.0 62.0L856.4 62.6L858.2 65.5L860.6 63.2L862.9 61.4L865.3 62.0L866.5 68.5L867.7 70.9L869.5 70.3L870.7 67.9L872.4 66.7L874.8 64.9L877.2 63.2L879.0 66.7L880.8 67.9L883.1 68.5L884.9 70.9L886.7 80.4L888.5 81.6L890.2 74.4L892.0 69.7L893.8 62.6L897.4 63.2L899.8 62.6L902.1 60.8L904.5 60.4L906.9 61.4L909.2 61.1L911.6 62.6L913.4 61.4" stroke="#5fe3bb" stroke-opacity="0.35" stroke-width="4" fill="none" stroke-linejoin="round" stroke-linecap="round"/>
<path d="M722.8 60.3L724.8 62.7L727.2 59.8L729.6 58.6L732.0 59.3L733.7 57.9L735.4 58.6L737.3 60.3L739.2 64.1L740.9 62.2L742.1 57.4L744.5 56.2L745.0 56.2L746.7 54.5L748.3 54.5L750.3 56.2L751.7 58.7L752.5 63.7L753.4 70.4L754.2 77.1L755.0 78.7L755.9 77.1L756.7 76.2L757.5 79.6L758.4 82.1L759.2 85.4L759.7 92.1L760.4 98.8L760.9 105.5L761.4 111.3L762.0 112.1L763.0 113.8L763.7 117.2L764.7 119.7L765.4 118.0L766.4 115.5L767.1 113.8L767.6 109.6L768.4 103.8L769.2 102.1L770.1 103.8L770.9 105.5L771.7 103.0L772.6 105.5L773.4 107.1L774.2 105.5L775.1 100.4L775.9 96.3L777.1 94.6L778.4 93.8L779.2 95.4L780.1 92.9L780.9 94.6L781.8 97.1L783.1 95.4L783.8 97.1L784.8 96.3L785.9 92.9L787.1 88.8L788.1 89.6L788.8 92.9L789.8 95.4L790.9 92.1L792.1 91.3L793.4 92.1L794.9 90.4L796.4 97.2L798.1 88.7L800.0 87.5L801.8 81.6L803.6 79.8L805.3 80.4L807.1 68.5L808.9 66.1L810.1 69.7L811.3 76.8L813.1 78.0L814.2 73.2L816.0 72.1L817.8 70.9L819.0 75.0L820.8 74.4L822.6 70.3L824.9 68.5L826.7 69.7L829.1 65.5L830.9 64.9L832.7 62.6L834.4 64.9L836.2 67.3L838.0 72.1L839.2 72.1L841.0 68.5L842.8 66.7L844.5 64.3L846.9 65.5L848.7 66.1L850.5 66.7L852.2 63.8L854.0 62.0L856.4 62.6L858.2 65.5L860.6 63.2L862.9 61.4L865.3 62.0L866.5 68.5L867.7 70.9L869.5 70.3L870.7 67.9L872.4 66.7L874.8 64.9L877.2 63.2L879.0 66.7L880.8 67.9L883.1 68.5L884.9 70.9L886.7 80.4L888.5 81.6L890.2 74.4L892.0 69.7L893.8 62.6L897.4 63.2L899.8 62.6L902.1 60.8L904.5 60.4L906.9 61.4L909.2 61.1L911.6 62.6L913.4 61.4" stroke="#1cca96" stroke-width="2.5" fill="none" stroke-linejoin="round" stroke-linecap="round"/>
<path d="M47.9 203.0L49.3 203.7L51.2 206.1L53.2 203.0L55.6 201.8L57.3 201.3L59.0 202.3L60.9 203.7L62.8 204.2L64.5 210.2L66.2 207.8L67.6 204.2L69.3 203.7L71.0 204.7L73.0 204.2L75.0 203.5L76.3 205.2L77.5 208.5L78.3 211.9L79.2 216.0L80.3 216.9L81.7 216.0L82.5 218.6L83.7 221.1L84.7 225.2L85.4 229.4L86.0 233.6L86.7 236.1L87.5 234.4L88.4 236.9L89.2 242.8L89.7 247.8L90.4 251.1L91.0 249.5L91.7 252.0L92.2 257.8L92.7 264.5L93.4 259.5L93.9 252.8L94.7 251.1L95.9 252.8L97.1 255.3L98.4 258.6L99.7 257.8L100.4 252.8L101.4 246.1L102.6 245.3L103.7 246.1L105.1 244.4L106.4 242.8L107.6 244.4L108.4 242.8L109.7 242.8L110.9 241.9L112.1 239.4L113.1 236.1L114.3 234.8L115.1 237.8L115.9 241.9L117.1 243.6L118.4 242.8L119.8 241.1L120.9 243.6L122.1 244.4L123.4 247.8L124.9 246.1L127.2 245.7L128.9 238.0L130.9 234.4L132.8 231.9L134.5 231.2L136.2 233.6L138.1 233.2L140.0 230.3L141.7 228.3L143.9 227.1L144.8 227.4L147.2 224.7L149.2 223.5L150.9 221.6L152.5 222.3L154.0 224.0L155.7 221.1L157.4 219.9L159.3 217.5L161.2 218.7L162.9 219.2L164.6 221.1L166.5 217.5L168.5 216.3L170.2 215.1L171.9 216.3L173.8 213.8L175.7 214.3L177.4 211.9L179.1 211.0L181.0 213.8L183.0 212.6L184.6 215.1L186.3 211.9L188.3 212.6L189.5 211.9L190.7 216.3L191.9 222.3L193.6 218.7L195.5 216.3L197.4 214.3L199.1 212.6L200.3 207.8L202.3 207.1L203.9 209.5L205.6 207.1L207.6 206.1L209.5 206.6L211.2 209.0L212.9 211.4L214.3 207.8L216.0 203.0L217.7 198.2L219.6 195.7L222.0 195.0L224.5 194.5L226.4 193.3L228.1 194.1L229.8 192.1L231.7 190.9L233.6 188.5L235.3 186.1L237.0 185.4L238.5 186.8" stroke="#5fe3bb" stroke-opacity="0.35" stroke-width="4" fill="none" stroke-linejoin="round" stroke-linecap="round"/>
<path d="M47.9 203.0L49.3 203.7L51.2 206.1L53.2 203.0L55.6 201.8L57.3 201.3L59.0 202.3L60.9 203.7L62.8 204.2L64.5 210.2L66.2 207.8L67.6 204.2L69.3 203.7L71.0 204.7L73.0 204.2L75.0 203.5L76.3 205.2L77.5 208.5L78.3 211.9L79.2 216.0L80.3 216.9L81.7 216.0L82.5 218.6L83.7 221.1L84.7 225.2L85.4 229.4L86.0 233.6L86.7 236.1L87.5 234.4L88.4 236.9L89.2 242.8L89.7 247.8L90.4 251.1L91.0 249.5L91.7 252.0L92.2 257.8L92.7 264.5L93.4 259.5L93.9 252.8L94.7 251.1L95.9 252.8L97.1 255.3L98.4 258.6L99.7 257.8L100.4 252.8L101.4 246.1L102.6 245.3L103.7 246.1L105.1 244.4L106.4 242.8L107.6 244.4L108.4 242.8L109.7 242.8L110.9 241.9L112.1 239.4L113.1 236.1L114.3 234.8L115.1 237.8L115.9 241.9L117.1 243.6L118.4 242.8L119.8 241.1L120.9 243.6L122.1 244.4L123.4 247.8L124.9 246.1L127.2 245.7L128.9 238.0L130.9 234.4L132.8 231.9L134.5 231.2L136.2 233.6L138.1 233.2L140.0 230.3L141.7 228.3L143.9 227.1L144.8 227.4L147.2 224.7L149.2 223.5L150.9 221.6L152.5 222.3L154.0 224.0L155.7 221.1L157.4 219.9L159.3 217.5L161.2 218.7L162.9 219.2L164.6 221.1L166.5 217.5L168.5 216.3L170.2 215.1L171.9 216.3L173.8 213.8L175.7 214.3L177.4 211.9L179.1 211.0L181.0 213.8L183.0 212.6L184.6 215.1L186.3 211.9L188.3 212.6L189.5 211.9L190.7 216.3L191.9 222.3L193.6 218.7L195.5 216.3L197.4 214.3L199.1 212.6L200.3 207.8L202.3 207.1L203.9 209.5L205.6 207.1L207.6 206.1L209.5 206.6L211.2 209.0L212.9 211.4L214.3 207.8L216.0 203.0L217.7 198.2L219.6 195.7L222.0 195.0L224.5 194.5L226.4 193.3L228.1 194.1L229.8 192.1L231.7 190.9L233.6 188.5L235.3 186.1L237.0 185.4L238.5 186.8" stroke="#1cca96" stroke-width="2.5" fill="none" stroke-linejoin="round" stroke-linecap="round"/>
<path d="M272.8 203.7L275.2 203.0L278.1 202.5L281.3 201.8L283.7 201.3L286.1 203.0L287.8 206.1L289.7 208.5L291.6 206.1L293.3 203.7L295.7 201.8L298.2 200.6L300.0 200.2L301.3 202.7L302.5 209.4L303.3 216.0L304.2 221.1L305.3 221.9L306.7 217.7L307.5 219.4L308.4 225.2L309.2 226.9L310.0 234.4L310.9 242.8L311.4 249.5L312.0 255.3L313.0 257.0L313.7 259.5L314.7 262.8L315.9 261.2L316.7 257.8L317.5 252.8L318.4 246.1L319.2 242.8L320.0 246.1L320.9 247.8L321.7 250.3L322.6 252.8L323.4 251.1L324.2 247.8L325.1 244.4L326.7 243.6L328.1 245.3L329.2 243.6L330.4 245.3L331.4 247.8L332.6 246.1L333.4 244.4L334.7 246.1L335.9 245.3L337.1 241.1L338.1 239.8L339.3 242.8L340.1 244.4L341.4 246.1L342.6 244.4L343.4 242.8L344.3 246.1L345.1 249.5L346.4 250.3L347.6 246.1L348.8 244.4L350.0 245.4L351.8 240.6L353.6 237.1L355.3 234.7L357.1 226.4L358.3 224.6L359.5 227.0L361.3 235.9L363.1 232.3L364.8 230.5L366.6 232.9L369.0 232.3L371.4 230.5L373.8 229.3L375.5 231.7L377.9 229.3L380.3 227.6L382.7 228.2L384.4 230.5L386.8 232.9L388.6 235.9L390.4 233.5L392.8 231.7L395.1 228.8L397.5 231.7L399.9 232.9L402.2 229.9L404.6 231.1L407.0 229.9L409.4 230.5L411.8 228.8L414.1 229.3L415.9 234.1L417.7 237.1L419.5 237.7L421.8 235.3L424.8 232.9L427.2 231.1L429.6 233.5L431.9 232.3L434.3 233.5L436.1 237.1L437.3 241.8L439.1 241.2L440.8 232.3L442.0 230.5L443.8 219.8L446.2 218.7L448.6 216.9L452.1 215.7L454.5 213.9L457.5 213.6L459.8 215.1L462.2 216.3L463.8 215.7" stroke="#5fe3bb" stroke-opacity="0.35" stroke-width="4" fill="none" stroke-linejoin="round" stroke-linecap="round"/>
<path d="M272.8 203.7L275.2 203.0L278.1 202.5L281.3 201.8L283.7 201.3L286.1 203.0L287.8 206.1L289.7 208.5L291.6 206.1L293.3 203.7L295.7 201.8L298.2 200.6L300.0 200.2L301.3 202.7L302.5 209.4L303.3 216.0L304.2 221.1L305.3 221.9L306.7 217.7L307.5 219.4L308.4 225.2L309.2 226.9L310.0 234.4L310.9 242.8L311.4 249.5L312.0 255.3L313.0 257.0L313.7 259.5L314.7 262.8L315.9 261.2L316.7 257.8L317.5 252.8L318.4 246.1L319.2 242.8L320.0 246.1L320.9 247.8L321.7 250.3L322.6 252.8L323.4 251.1L324.2 247.8L325.1 244.4L326.7 243.6L328.1 245.3L329.2 243.6L330.4 245.3L331.4 247.8L332.6 246.1L333.4 244.4L334.7 246.1L335.9 245.3L337.1 241.1L338.1 239.8L339.3 242.8L340.1 244.4L341.4 246.1L342.6 244.4L343.4 242.8L344.3 246.1L345.1 249.5L346.4 250.3L347.6 246.1L348.8 244.4L350.0 245.4L351.8 240.6L353.6 237.1L355.3 234.7L357.1 226.4L358.3 224.6L359.5 227.0L361.3 235.9L363.1 232.3L364.8 230.5L366.6 232.9L369.0 232.3L371.4 230.5L373.8 229.3L375.5 231.7L377.9 229.3L380.3 227.6L382.7 228.2L384.4 230.5L386.8 232.9L388.6 235.9L390.4 233.5L392.8 231.7L395.1 228.8L397.5 231.7L399.9 232.9L402.2 229.9L404.6 231.1L407.0 229.9L409.4 230.5L411.8 228.8L414.1 229.3L415.9 234.1L417.7 237.1L419.5 237.7L421.8 235.3L424.8 232.9L427.2 231.1L429.6 233.5L431.9 232.3L434.3 233.5L436.1 237.1L437.3 241.8L439.1 241.2L440.8 232.3L442.0 230.5L443.8 219.8L446.2 218.7L448.6 216.9L452.1 215.7L454.5 213.9L457.5 213.6L459.8 215.1L462.2 216.3L463.8 215.7" stroke="#1cca96" stroke-width="2.5" fill="none" stroke-linejoin="round" stroke-linecap="round"/>
<path d="M497.8 203.7L500.2 203.0L503.1 202.5L505.5 201.8L508.0 201.3L510.4 202.3L512.3 204.2L514.2 207.8L515.9 206.6L517.6 204.7L519.5 204.2L521.5 205.4L523.2 204.7L525.0 205.2L526.3 206.9L527.5 212.7L528.3 219.4L529.2 224.4L530.0 223.6L531.3 220.2L532.5 223.6L533.4 227.7L534.2 229.4L534.7 236.1L535.4 242.8L535.9 249.5L536.7 252.8L537.5 251.1L538.4 254.5L539.2 256.1L540.0 253.6L540.9 255.3L541.7 257.8L542.5 258.6L543.0 252.8L543.7 244.4L544.2 241.9L545.0 244.4L545.9 247.8L546.7 246.1L548.1 243.6L549.2 246.1L550.1 249.5L550.9 246.1L551.7 242.8L553.1 241.1L554.2 242.8L555.4 244.4L556.4 245.3L557.6 243.6L558.4 244.4L559.7 242.8L560.9 241.1L562.1 236.1L562.6 235.3L563.4 239.4L564.3 241.1L565.1 240.3L566.4 239.4L567.6 238.6L568.8 237.8L569.8 240.3L570.9 241.9L572.1 241.1L573.4 237.8L575.0 237.3L576.8 234.9L578.6 232.0L580.3 233.8L582.1 227.8L583.5 226.0L585.1 230.8L586.3 235.5L588.1 233.8L589.8 230.8L591.6 230.2L593.4 233.2L595.2 232.0L597.0 232.6L598.8 231.4L600.5 235.5L602.3 233.8L604.7 230.8L606.5 231.4L608.8 233.8L611.2 235.5L613.0 239.1L614.8 236.7L617.2 234.9L619.5 231.4L621.3 235.5L623.7 234.3L626.1 235.5L628.4 237.3L630.8 239.7L632.6 241.5L634.4 238.5L636.8 235.5L638.5 236.1L640.3 240.9L642.7 240.9L645.1 239.7L647.4 239.1L649.8 237.3L651.6 236.7L653.4 239.7L655.8 239.1L658.1 240.9L659.9 241.5L661.1 243.8L662.3 246.2L664.1 245.6L665.8 239.1L667.6 237.3L669.4 229.0L671.8 228.4L674.2 229.6L676.5 228.4L678.9 230.8L680.7 227.8L682.5 225.4L684.8 224.8L687.2 225.4L688.8 226.0" stroke="#5fe3bb" stroke-opacity="0.35" stroke-width="4" fill="none" stroke-linejoin="round" stroke-linecap="round"/>
<path d="M497.8 203.7L500.2 203.0L503.1 202.5L505.5 201.8L508.0 201.3L510.4 202.3L512.3 204.2L514.2 207.8L515.9 206.6L517.6 204.7L519.5 204.2L521.5 205.4L523.2 204.7L525.0 205.2L526.3 206.9L527.5 212.7L528.3 219.4L529.2 224.4L530.0 223.6L531.3 220.2L532.5 223.6L533.4 227.7L534.2 229.4L534.7 236.1L535.4 242.8L535.9 249.5L536.7 252.8L537.5 251.1L538.4 254.5L539.2 256.1L540.0 253.6L540.9 255.3L541.7 257.8L542.5 258.6L543.0 252.8L543.7 244.4L544.2 241.9L545.0 244.4L545.9 247.8L546.7 246.1L548.1 243.6L549.2 246.1L550.1 249.5L550.9 246.1L551.7 242.8L553.1 241.1L554.2 242.8L555.4 244.4L556.4 245.3L557.6 243.6L558.4 244.4L559.7 242.8L560.9 241.1L562.1 236.1L562.6 235.3L563.4 239.4L564.3 241.1L565.1 240.3L566.4 239.4L567.6 238.6L568.8 237.8L569.8 240.3L570.9 241.9L572.1 241.1L573.4 237.8L575.0 237.3L576.8 234.9L578.6 232.0L580.3 233.8L582.1 227.8L583.5 226.0L585.1 230.8L586.3 235.5L588.1 233.8L589.8 230.8L591.6 230.2L593.4 233.2L595.2 232.0L597.0 232.6L598.8 231.4L600.5 235.5L602.3 233.8L604.7 230.8L606.5 231.4L608.8 233.8L611.2 235.5L613.0 239.1L614.8 236.7L617.2 234.9L619.5 231.4L621.3 235.5L623.7 234.3L626.1 235.5L628.4 237.3L630.8 239.7L632.6 241.5L634.4 238.5L636.8 235.5L638.5 236.1L640.3 240.9L642.7 240.9L645.1 239.7L647.4 239.1L649.8 237.3L651.6 236.7L653.4 239.7L655.8 239.1L658.1 240.9L659.9 241.5L661.1 243.8L662.3 246.2L664.1 245.6L665.8 239.1L667.6 237.3L669.4 229.0L671.8 228.4L674.2 229.6L676.5 228.4L678.9 230.8L680.7 227.8L682.5 225.4L684.8 224.8L687.2 225.4L688.8 226.0" stroke="#1cca96" stroke-width="2.5" fill="none" stroke-linejoin="round" stroke-linecap="round"/>
<path d="M722.5 200.3L724.3 202.7L726.4 202.4L728.4 203.4L730.5 201.0L731.9 200.0L734.4 198.2L736.4 200.3L738.2 204.5L739.6 203.8L741.0 203.1L742.7 205.2L744.5 207.3L745.8 205.2L747.2 203.8L749.0 204.8L750.0 203.2L751.4 206.6L752.6 213.5L753.4 219.5L754.3 222.0L755.2 218.6L756.0 215.2L756.9 218.6L757.7 227.2L758.6 229.8L759.4 237.5L760.0 244.4L760.6 249.5L761.2 254.7L761.7 263.2L762.4 249.5L762.9 252.9L763.4 261.5L764.1 265.8L765.1 268.4L766.3 268.4L767.2 266.7L768.0 261.5L768.5 258.1L769.2 259.8L770.3 265.0L770.9 261.5L772.0 265.8L773.2 268.4L774.4 266.7L775.4 259.8L776.1 256.4L777.1 257.2L778.3 254.7L779.5 256.4L780.6 253.8L781.8 256.4L783.0 254.7L784.0 256.4L784.7 259.0L785.7 259.8L786.4 254.7L787.4 249.5L788.6 251.2L789.5 253.8L790.9 254.7L792.1 252.9L793.3 254.7L794.6 255.5L796.0 256.4L797.2 254.7L798.4 251.2L800.0 247.8L802.0 245.2L803.7 243.3L805.4 239.2L807.3 236.8L809.2 229.5L810.9 233.6L812.6 235.6L814.5 231.2L816.5 230.3L817.9 231.9L819.3 232.7L821.2 231.2L823.2 229.5L824.9 227.8L826.5 225.9L828.0 227.1L829.7 224.0L831.4 221.1L833.3 221.6L835.2 218.7L836.9 219.9L838.1 218.2L840.1 221.6L841.7 220.6L843.4 222.3L845.4 224.0L847.3 225.9L849.0 223.5L850.7 224.7L852.1 223.0L853.8 225.4L855.5 223.5L857.4 224.7L859.4 227.1L861.1 225.9L862.7 227.8L864.7 229.5L866.6 231.2L868.3 231.9L870.0 233.6L871.9 234.4L873.8 231.2L875.5 230.3L877.2 228.3L879.2 227.1L881.1 225.4L882.8 224.0L884.5 225.9L885.9 229.5L887.6 233.6L889.3 234.4L890.7 228.3L892.4 222.3L894.1 220.6L896.0 218.7L898.0 216.7L899.7 213.4L901.4 212.6L903.3 211.0L905.2 210.2L906.9 207.1L908.6 206.1L910.5 204.7L912.5 205.4" stroke="#5fe3bb" stroke-opacity="0.35" stroke-width="4" fill="none" stroke-linejoin="round" stroke-linecap="round"/>
<path d="M722.5 200.3L724.3 202.7L726.4 202.4L728.4 203.4L730.5 201.0L731.9 200.0L734.4 198.2L736.4 200.3L738.2 204.5L739.6 203.8L741.0 203.1L742.7 205.2L744.5 207.3L745.8 205.2L747.2 203.8L749.0 204.8L750.0 203.2L751.4 206.6L752.6 213.5L753.4 219.5L754.3 222.0L755.2 218.6L756.0 215.2L756.9 218.6L757.7 227.2L758.6 229.8L759.4 237.5L760.0 244.4L760.6 249.5L761.2 254.7L761.7 263.2L762.4 249.5L762.9 252.9L763.4 261.5L764.1 265.8L765.1 268.4L766.3 268.4L767.2 266.7L768.0 261.5L768.5 258.1L769.2 259.8L770.3 265.0L770.9 261.5L772.0 265.8L773.2 268.4L774.4 266.7L775.4 259.8L776.1 256.4L777.1 257.2L778.3 254.7L779.5 256.4L780.6 253.8L781.8 256.4L783.0 254.7L784.0 256.4L784.7 259.0L785.7 259.8L786.4 254.7L787.4 249.5L788.6 251.2L789.5 253.8L790.9 254.7L792.1 252.9L793.3 254.7L794.6 255.5L796.0 256.4L797.2 254.7L798.4 251.2L800.0 247.8L802.0 245.2L803.7 243.3L805.4 239.2L807.3 236.8L809.2 229.5L810.9 233.6L812.6 235.6L814.5 231.2L816.5 230.3L817.9 231.9L819.3 232.7L821.2 231.2L823.2 229.5L824.9 227.8L826.5 225.9L828.0 227.1L829.7 224.0L831.4 221.1L833.3 221.6L835.2 218.7L836.9 219.9L838.1 218.2L840.1 221.6L841.7 220.6L843.4 222.3L845.4 224.0L847.3 225.9L849.0 223.5L850.7 224.7L852.1 223.0L853.8 225.4L855.5 223.5L857.4 224.7L859.4 227.1L861.1 225.9L862.7 227.8L864.7 229.5L866.6 231.2L868.3 231.9L870.0 233.6L871.9 234.4L873.8 231.2L875.5 230.3L877.2 228.3L879.2 227.1L881.1 225.4L882.8 224.0L884.5 225.9L885.9 229.5L887.6 233.6L889.3 234.4L890.7 228.3L892.4 222.3L894.1 220.6L896.0 218.7L898.0 216.7L899.7 213.4L901.4 212.6L903.3 211.0L905.2 210.2L906.9 207.1L908.6 206.1L910.5 204.7L912.5 205.4" stroke="#1cca96" stroke-width="2.5" fill="none" stroke-linejoin="round" stroke-linecap="round"/>
<path d="M47.9 346.2L48.8 343.8L50.8 345.0L52.4 342.6L54.1 343.3L56.1 341.9L58.0 343.3L59.7 341.9L61.4 345.0L63.3 343.8L65.2 347.4L66.9 343.8L68.1 339.4L70.1 338.5L72.0 336.8L73.6 334.8L74.9 332.9L75.9 335.8L76.9 341.6L77.8 347.5L78.8 351.4L79.8 356.3L80.8 359.2L81.7 357.2L82.7 362.1L83.7 367.0L84.7 374.8L85.3 384.5L86.0 394.3L86.4 404.0L87.2 406.0L88.6 405.0L89.5 402.1L90.5 403.0L91.5 400.1L92.5 394.3L93.4 390.4L94.4 392.3L95.4 395.2L96.4 392.3L97.3 390.4L98.3 393.3L99.3 395.2L100.3 390.4L101.2 387.4L102.2 386.5L103.2 388.4L104.2 390.4L105.1 394.3L106.7 392.3L108.1 394.3L109.0 395.2L110.0 392.3L111.0 390.4L112.0 386.5L112.9 384.5L113.9 386.5L114.9 388.4L116.4 389.4L117.8 388.4L119.2 390.4L120.7 392.3L122.1 390.4L122.4 392.0L124.1 390.1L125.0 389.3L126.8 385.7L128.6 382.1L130.4 380.9L132.2 370.2L134.0 368.4L135.2 371.4L136.4 378.5L138.2 373.8L140.0 372.6L142.4 372.0L144.2 376.1L146.0 374.3L147.8 370.8L149.6 370.2L151.4 373.2L153.2 370.8L155.5 367.2L157.9 365.4L159.7 368.4L161.5 370.8L163.3 376.1L165.1 374.3L166.9 372.0L169.3 367.8L171.7 370.2L174.1 370.8L176.5 369.6L178.9 372.0L181.3 373.2L183.7 373.8L186.1 371.4L188.5 370.8L190.3 374.3L192.1 378.5L194.5 379.1L196.9 376.7L199.9 373.8L202.3 372.6L204.1 375.5L206.5 373.8L208.9 375.5L210.7 377.9L211.8 383.3L213.6 384.5L215.4 376.1L217.2 372.0L219.0 364.8L221.4 362.4L223.8 358.8L226.2 356.4L228.0 353.6L230.4 356.4L232.8 355.2L235.2 357.6L237.0 358.2L238.8 357.0" stroke="#5fe3bb" stroke-opacity="0.35" stroke-width="4" fill="none" stroke-linejoin="round" stroke-linecap="round"/>
<path d="M47.9 346.2L48.8 343.8L50.8 345.0L52.4 342.6L54.1 343.3L56.1 341.9L58.0 343.3L59.7 341.9L61.4 345.0L63.3 343.8L65.2 347.4L66.9 343.8L68.1 339.4L70.1 338.5L72.0 336.8L73.6 334.8L74.9 332.9L75.9 335.8L76.9 341.6L77.8 347.5L78.8 351.4L79.8 356.3L80.8 359.2L81.7 357.2L82.7 362.1L83.7 367.0L84.7 374.8L85.3 384.5L86.0 394.3L86.4 404.0L87.2 406.0L88.6 405.0L89.5 402.1L90.5 403.0L91.5 400.1L92.5 394.3L93.4 390.4L94.4 392.3L95.4 395.2L96.4 392.3L97.3 390.4L98.3 393.3L99.3 395.2L100.3 390.4L101.2 387.4L102.2 386.5L103.2 388.4L104.2 390.4L105.1 394.3L106.7 392.3L108.1 394.3L109.0 395.2L110.0 392.3L111.0 390.4L112.0 386.5L112.9 384.5L113.9 386.5L114.9 388.4L116.4 389.4L117.8 388.4L119.2 390.4L120.7 392.3L122.1 390.4L122.4 392.0L124.1 390.1L125.0 389.3L126.8 385.7L128.6 382.1L130.4 380.9L132.2 370.2L134.0 368.4L135.2 371.4L136.4 378.5L138.2 373.8L140.0 372.6L142.4 372.0L144.2 376.1L146.0 374.3L147.8 370.8L149.6 370.2L151.4 373.2L153.2 370.8L155.5 367.2L157.9 365.4L159.7 368.4L161.5 370.8L163.3 376.1L165.1 374.3L166.9 372.0L169.3 367.8L171.7 370.2L174.1 370.8L176.5 369.6L178.9 372.0L181.3 373.2L183.7 373.8L186.1 371.4L188.5 370.8L190.3 374.3L192.1 378.5L194.5 379.1L196.9 376.7L199.9 373.8L202.3 372.6L204.1 375.5L206.5 373.8L208.9 375.5L210.7 377.9L211.8 383.3L213.6 384.5L215.4 376.1L217.2 372.0L219.0 364.8L221.4 362.4L223.8 358.8L226.2 356.4L228.0 353.6L230.4 356.4L232.8 355.2L235.2 357.6L237.0 358.2L238.8 357.0" stroke="#1cca96" stroke-width="2.5" fill="none" stroke-linejoin="round" stroke-linecap="round"/>
<path d="M272.8 345.7L275.2 345.0L277.7 343.8L280.1 341.9L282.5 340.2L284.9 340.2L287.3 341.4L289.7 343.3L291.6 340.9L293.3 339.4L295.0 340.2L297.0 338.5L298.9 337.7L300.6 337.0L301.8 340.2L303.0 346.2L304.2 352.2L305.4 349.8L306.6 353.4L307.8 351.0L309.2 355.1L310.0 363.4L310.5 375.1L311.4 388.5L312.5 385.1L313.0 376.8L313.9 390.1L315.0 393.5L315.9 391.8L317.0 398.5L318.0 385.1L318.7 378.4L320.0 381.8L320.9 378.4L322.6 383.5L324.2 380.1L325.9 371.8L327.6 370.1L329.2 371.8L330.9 369.3L332.6 370.9L334.2 367.6L336.8 361.7L338.4 365.9L340.0 366.7L342.3 364.9L344.6 362.0L345.8 367.8L347.5 366.1L349.3 364.4L351.6 362.0L353.3 360.9L355.7 359.7L358.6 354.5L360.0 356.2L361.5 362.6L364.4 358.6L367.8 359.1L370.2 361.5L373.6 358.0L377.1 357.4L380.0 353.3L381.8 352.8L384.1 354.5L387.6 351.6L391.0 350.4L393.4 349.0L398.0 349.3L400.3 348.7L402.6 347.0L406.1 348.7L408.4 352.2L411.9 351.6L414.2 353.3L416.6 355.7L419.8 352.2L421.9 352.2L423.8 350.5L425.5 349.8L427.2 350.5L429.2 351.5L431.1 352.2L432.8 353.4L434.5 353.9L435.9 357.1L437.6 359.5L439.3 358.3L440.7 355.4L442.4 351.0L444.1 348.1L446.0 347.4L448.0 346.2L449.7 345.0L451.4 343.8L453.3 341.9L455.2 343.3L456.9 341.4L458.6 340.2L460.5 340.9L462.5 341.9" stroke="#5fe3bb" stroke-opacity="0.35" stroke-width="4" fill="none" stroke-linejoin="round" stroke-linecap="round"/>
<path d="M272.8 345.7L275.2 345.0L277.7 343.8L280.1 341.9L282.5 340.2L284.9 340.2L287.3 341.4L289.7 343.3L291.6 340.9L293.3 339.4L295.0 340.2L297.0 338.5L298.9 337.7L300.6 337.0L301.8 340.2L303.0 346.2L304.2 352.2L305.4 349.8L306.6 353.4L307.8 351.0L309.2 355.1L310.0 363.4L310.5 375.1L311.4 388.5L312.5 385.1L313.0 376.8L313.9 390.1L315.0 393.5L315.9 391.8L317.0 398.5L318.0 385.1L318.7 378.4L320.0 381.8L320.9 378.4L322.6 383.5L324.2 380.1L325.9 371.8L327.6 370.1L329.2 371.8L330.9 369.3L332.6 370.9L334.2 367.6L336.8 361.7L338.4 365.9L340.0 366.7L342.3 364.9L344.6 362.0L345.8 367.8L347.5 366.1L349.3 364.4L351.6 362.0L353.3 360.9L355.7 359.7L358.6 354.5L360.0 356.2L361.5 362.6L364.4 358.6L367.8 359.1L370.2 361.5L373.6 358.0L377.1 357.4L380.0 353.3L381.8 352.8L384.1 354.5L387.6 351.6L391.0 350.4L393.4 349.0L398.0 349.3L400.3 348.7L402.6 347.0L406.1 348.7L408.4 352.2L411.9 351.6L414.2 353.3L416.6 355.7L419.8 352.2L421.9 352.2L423.8 350.5L425.5 349.8L427.2 350.5L429.2 351.5L431.1 352.2L432.8 353.4L434.5 353.9L435.9 357.1L437.6 359.5L439.3 358.3L440.7 355.4L442.4 351.0L444.1 348.1L446.0 347.4L448.0 346.2L449.7 345.0L451.4 343.8L453.3 341.9L455.2 343.3L456.9 341.4L458.6 340.2L460.5 340.9L462.5 341.9" stroke="#1cca96" stroke-width="2.5" fill="none" stroke-linejoin="round" stroke-linecap="round"/>
<path d="M497.8 345.7L499.8 345.0L501.4 343.3L503.1 341.9L505.1 340.9L507.0 339.0L508.0 337.0L509.4 340.2L511.1 341.4L512.8 343.3L514.7 342.6L516.6 343.8L518.3 342.6L520.0 343.4L521.7 342.5L523.3 343.0L525.0 342.0L526.7 343.0L527.5 345.9L528.4 351.7L529.2 357.6L530.0 360.1L530.9 358.4L531.7 359.2L532.5 361.7L533.4 363.4L534.2 364.2L535.0 368.4L535.9 375.1L536.4 381.8L537.0 386.0L538.0 387.6L538.7 386.0L539.2 390.1L539.7 395.2L540.4 391.8L540.9 386.8L541.7 388.5L542.6 383.5L543.4 380.1L544.2 378.4L545.1 375.1L545.9 376.8L546.7 375.1L547.6 372.6L548.7 370.1L550.1 367.6L551.4 365.1L552.6 365.4L553.4 367.6L554.2 371.8L555.1 375.1L555.9 374.3L556.8 372.6L557.6 375.1L558.8 372.6L559.8 370.9L560.9 370.1L562.1 369.3L563.1 367.6L564.3 366.8L565.4 367.1L566.8 367.6L568.1 366.8L569.9 367.6L570.7 369.1L572.6 366.0L573.8 361.9L575.5 362.6L577.5 361.2L579.4 361.9L581.1 359.5L582.8 358.3L584.7 360.7L586.6 361.9L588.3 361.2L590.0 360.7L592.9 359.5L594.3 360.7L596.2 360.2L598.2 358.3L599.9 356.3L601.5 359.5L603.0 360.7L604.7 362.6L606.4 359.5L608.3 357.1L610.2 355.4L611.9 353.0L613.6 351.5L615.5 349.8L617.5 348.1L619.2 346.2L620.9 343.8L622.3 345.7L624.0 348.1L625.7 346.2L627.1 347.4L628.8 349.1L630.5 350.5L632.4 352.2L634.4 353.4L636.1 352.2L637.7 349.8L639.7 351.5L640.9 355.4L642.6 353.4L644.5 353.0L646.4 355.4L648.1 355.8L649.8 354.6L651.7 356.3L653.7 357.1L655.4 358.3L657.0 358.7L659.0 358.3L660.9 360.7L662.6 364.3L663.8 363.6L665.7 358.3L667.4 352.2L669.1 347.4L671.0 345.7L673.0 345.0L674.7 346.2L676.4 342.6L678.3 341.4L680.2 340.2L681.9 337.7L683.6 336.5L685.0 333.6L686.7 334.1L687.9 335.3" stroke="#5fe3bb" stroke-opacity="0.35" stroke-width="4" fill="none" stroke-linejoin="round" stroke-linecap="round"/>
<path d="M497.8 345.7L499.8 345.0L501.4 343.3L503.1 341.9L505.1 340.9L507.0 339.0L508.0 337.0L509.4 340.2L511.1 341.4L512.8 343.3L514.7 342.6L516.6 343.8L518.3 342.6L520.0 343.4L521.7 342.5L523.3 343.0L525.0 342.0L526.7 343.0L527.5 345.9L528.4 351.7L529.2 357.6L530.0 360.1L530.9 358.4L531.7 359.2L532.5 361.7L533.4 363.4L534.2 364.2L535.0 368.4L535.9 375.1L536.4 381.8L537.0 386.0L538.0 387.6L538.7 386.0L539.2 390.1L539.7 395.2L540.4 391.8L540.9 386.8L541.7 388.5L542.6 383.5L543.4 380.1L544.2 378.4L545.1 375.1L545.9 376.8L546.7 375.1L547.6 372.6L548.7 370.1L550.1 367.6L551.4 365.1L552.6 365.4L553.4 367.6L554.2 371.8L555.1 375.1L555.9 374.3L556.8 372.6L557.6 375.1L558.8 372.6L559.8 370.9L560.9 370.1L562.1 369.3L563.1 367.6L564.3 366.8L565.4 367.1L566.8 367.6L568.1 366.8L569.9 367.6L570.7 369.1L572.6 366.0L573.8 361.9L575.5 362.6L577.5 361.2L579.4 361.9L581.1 359.5L582.8 358.3L584.7 360.7L586.6 361.9L588.3 361.2L590.0 360.7L592.9 359.5L594.3 360.7L596.2 360.2L598.2 358.3L599.9 356.3L601.5 359.5L603.0 360.7L604.7 362.6L606.4 359.5L608.3 357.1L610.2 355.4L611.9 353.0L613.6 351.5L615.5 349.8L617.5 348.1L619.2 346.2L620.9 343.8L622.3 345.7L624.0 348.1L625.7 346.2L627.1 347.4L628.8 349.1L630.5 350.5L632.4 352.2L634.4 353.4L636.1 352.2L637.7 349.8L639.7 351.5L640.9 355.4L642.6 353.4L644.5 353.0L646.4 355.4L648.1 355.8L649.8 354.6L651.7 356.3L653.7 357.1L655.4 358.3L657.0 358.7L659.0 358.3L660.9 360.7L662.6 364.3L663.8 363.6L665.7 358.3L667.4 352.2L669.1 347.4L671.0 345.7L673.0 345.0L674.7 346.2L676.4 342.6L678.3 341.4L680.2 340.2L681.9 337.7L683.6 336.5L685.0 333.6L686.7 334.1L687.9 335.3" stroke="#1cca96" stroke-width="2.5" fill="none" stroke-linejoin="round" stroke-linecap="round"/>
<path d="M722.8 346.2L724.8 347.4L726.4 348.6L728.1 345.7L730.1 343.8L732.0 341.9L733.7 340.9L735.4 341.4L737.3 343.8L738.5 349.8L740.2 351.5L741.6 346.2L743.3 343.8L745.0 343.4L746.3 342.0L747.5 342.5L748.7 345.0L750.0 347.5L751.3 350.0L752.5 354.2L753.4 357.6L754.2 360.9L755.0 361.7L755.9 358.4L756.7 355.1L757.5 356.7L758.4 359.2L759.2 362.6L760.0 365.9L760.9 370.9L761.7 375.1L762.5 378.4L763.4 380.1L764.2 385.1L764.7 391.8L765.4 399.3L766.4 400.2L767.1 396.0L767.6 390.1L768.4 385.1L769.2 383.5L770.1 382.6L770.9 381.0L771.7 380.1L772.6 383.5L773.4 381.0L774.2 379.3L775.1 375.9L775.9 374.3L776.7 372.6L777.6 371.8L778.4 373.4L779.2 370.9L780.1 370.1L780.9 368.8L781.8 367.6L783.1 367.6L784.3 368.1L785.1 366.8L786.4 365.9L787.6 365.1L788.8 365.4L790.1 367.6L790.9 365.9L792.1 365.4L793.4 365.9L794.9 364.7L795.7 365.5L797.6 361.9L799.6 360.7L801.2 358.3L802.9 359.5L804.9 352.2L806.8 348.6L808.5 346.2L810.2 346.7L811.6 351.0L812.6 358.3L814.0 352.2L816.5 349.8L817.9 350.5L819.3 351.9L820.8 353.1L822.4 350.7L824.1 349.5L826.1 347.8L828.0 347.1L829.7 345.4L831.4 344.6L833.3 343.9L835.2 342.2L836.9 341.5L838.6 340.5L840.1 338.6L841.7 336.2L843.4 330.2L845.4 328.5L846.6 330.2L847.8 335.0L849.0 338.6L850.7 337.4L852.1 335.0L853.8 333.3L855.5 334.3L857.0 332.6L858.6 330.9L860.3 331.4L862.3 329.0L864.2 330.2L865.9 333.8L867.6 339.8L869.5 338.1L871.4 336.2L873.1 333.3L874.8 331.9L876.3 330.9L877.9 333.3L879.6 335.7L881.6 333.8L883.5 334.3L885.2 335.7L886.4 336.7L887.6 339.8L888.8 338.6L890.7 331.4L892.4 328.5L894.1 326.1L896.0 323.6L898.0 321.7L899.7 318.8L901.4 316.4L903.3 315.0L905.2 315.7" stroke="#5fe3bb" stroke-opacity="0.35" stroke-width="4" fill="none" stroke-linejoin="round" stroke-linecap="round"/>
<path d="M722.8 346.2L724.8 347.4L726.4 348.6L728.1 345.7L730.1 343.8L732.0 341.9L733.7 340.9L735.4 341.4L737.3 343.8L738.5 349.8L740.2 351.5L741.6 346.2L743.3 343.8L745.0 343.4L746.3 342.0L747.5 342.5L748.7 345.0L750.0 347.5L751.3 350.0L752.5 354.2L753.4 357.6L754.2 360.9L755.0 361.7L755.9 358.4L756.7 355.1L757.5 356.7L758.4 359.2L759.2 362.6L760.0 365.9L760.9 370.9L761.7 375.1L762.5 378.4L763.4 380.1L764.2 385.1L764.7 391.8L765.4 399.3L766.4 400.2L767.1 396.0L767.6 390.1L768.4 385.1L769.2 383.5L770.1 382.6L770.9 381.0L771.7 380.1L772.6 383.5L773.4 381.0L774.2 379.3L775.1 375.9L775.9 374.3L776.7 372.6L777.6 371.8L778.4 373.4L779.2 370.9L780.1 370.1L780.9 368.8L781.8 367.6L783.1 367.6L784.3 368.1L785.1 366.8L786.4 365.9L787.6 365.1L788.8 365.4L790.1 367.6L790.9 365.9L792.1 365.4L793.4 365.9L794.9 364.7L795.7 365.5L797.6 361.9L799.6 360.7L801.2 358.3L802.9 359.5L804.9 352.2L806.8 348.6L808.5 346.2L810.2 346.7L811.6 351.0L812.6 358.3L814.0 352.2L816.5 349.8L817.9 350.5L819.3 351.9L820.8 353.1L822.4 350.7L824.1 349.5L826.1 347.8L828.0 347.1L829.7 345.4L831.4 344.6L833.3 343.9L835.2 342.2L836.9 341.5L838.6 340.5L840.1 338.6L841.7 336.2L843.4 330.2L845.4 328.5L846.6 330.2L847.8 335.0L849.0 338.6L850.7 337.4L852.1 335.0L853.8 333.3L855.5 334.3L857.0 332.6L858.6 330.9L860.3 331.4L862.3 329.0L864.2 330.2L865.9 333.8L867.6 339.8L869.5 338.1L871.4 336.2L873.1 333.3L874.8 331.9L876.3 330.9L877.9 333.3L879.6 335.7L881.6 333.8L883.5 334.3L885.2 335.7L886.4 336.7L887.6 339.8L888.8 338.6L890.7 331.4L892.4 328.5L894.1 326.1L896.0 323.6L898.0 321.7L899.7 318.8L901.4 316.4L903.3 315.0L905.2 315.7" stroke="#1cca96" stroke-width="2.5" fill="none" stroke-linejoin="round" stroke-linecap="round"/>
</svg></body></html>
